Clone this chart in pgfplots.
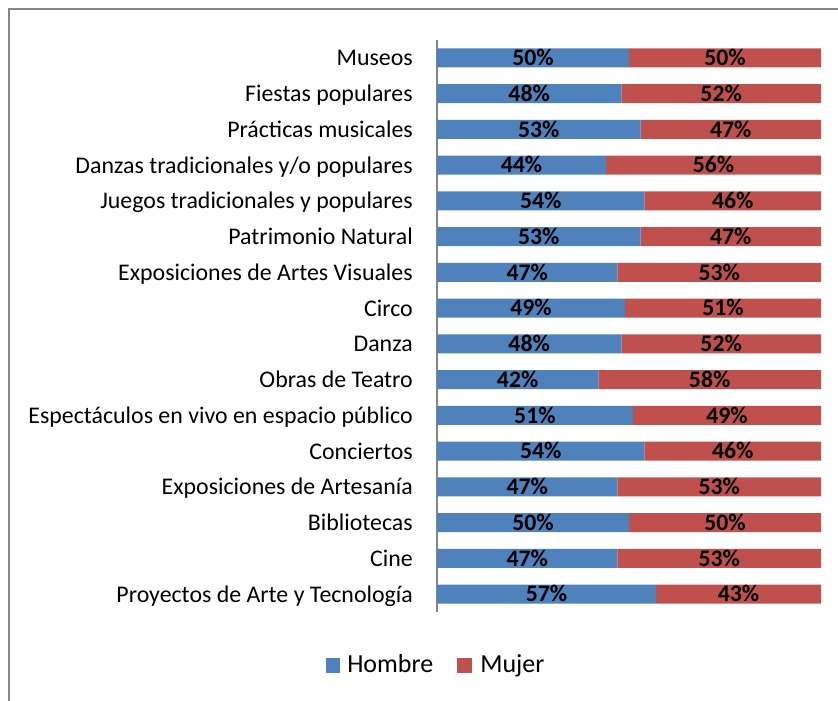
\documentclass[border=0pt]{standalone}
\usepackage{pgfplots}
\pgfplotsset{compat=1.18}
\usepackage{pgfplotstable}
\usepackage{fontspec}
\setmainfont{Carlito}
\definecolor{hombre}{HTML}{4F81BD}
\definecolor{mujer}{HTML}{C0504D}
\definecolor{framegray}{HTML}{868686}
\pgfplotstableread{
y h m
0 57 43
1 47 53
2 50 50
3 47 53
4 54 46
5 51 49
6 42 58
7 48 52
8 49 51
9 47 53
10 53 47
11 54 46
12 44 56
13 53 47
14 48 52
15 50 50
}\data
\begin{document}
\begin{tikzpicture}[x=0.75pt,y=0.75pt]
\useasboundingbox (0,0) rectangle (838,700);
\draw[framegray, line width=1.5pt] (9,-30) -- (9,691) -- (900,691);
\begin{axis}[
  at={(327.75pt,66pt)}, anchor=south west,
  width=288pt, height=429pt, scale only axis,
  xbar stacked, bar width=14.25pt,
  xmin=0, xmax=100, ymin=-0.5, ymax=15.5,
  axis x line=none, axis y line*=left,
  y axis line style={framegray, line width=1.2pt},
  ytick={0,...,15},
  yticklabels={Proyectos de Arte y Tecnología, Cine, Bibliotecas, Exposiciones de Artesanía, Conciertos, Espectáculos en vivo en espacio público, Obras de Teatro, Danza, Circo, Exposiciones de Artes Visuales, Patrimonio Natural, Juegos tradicionales y populares, Danzas tradicionales y/o populares, Prácticas musicales, Fiestas populares, Museos},
  major tick length=0pt,
  yticklabel style={font=\fontsize{17.9}{20}\selectfont, inner sep=0pt, anchor=base east, xshift=-18pt, yshift=-6pt},
]
\addplot[fill=hombre, draw=none] table[x=h, y=y]{\data};
\addplot[fill=mujer, draw=none] table[x=m, y=y]{\data};
\end{axis}
\begin{axis}[
  at={(327.75pt,66pt)}, anchor=south west,
  width=288pt, height=429pt, scale only axis,
  xmin=0, xmax=100, ymin=-0.5, ymax=15.5,
  hide axis,
  point meta=explicit,
  /pgf/number format/assume math mode=true,
  nodes near coords={\pgfmathprintnumber{\pgfplotspointmeta}\%},
  nodes near coords style={anchor=base, inner sep=0pt, yshift=-5.8pt, font=\bfseries\fontsize{17.8}{20}\selectfont, text=black},
]
\addplot[only marks, mark=none] table[x expr=\thisrow{h}/2, y=y, meta=h]{\data};
\addplot[only marks, mark=none] table[x expr=\thisrow{h}+\thisrow{m}/2, y=y, meta=m]{\data};
\end{axis}
\fill[hombre] (326,27.3) rectangle (340,42.3);
\node[anchor=base west, inner sep=0pt, font=\fontsize{19.5}{22}\selectfont] at (347,27.3) {Hombre};
\fill[mujer] (457,27.3) rectangle (472,42.3);
\node[anchor=base west, inner sep=0pt, font=\fontsize{19.5}{22}\selectfont] at (480,27.3) {Mujer};
\end{tikzpicture}
\end{document}
